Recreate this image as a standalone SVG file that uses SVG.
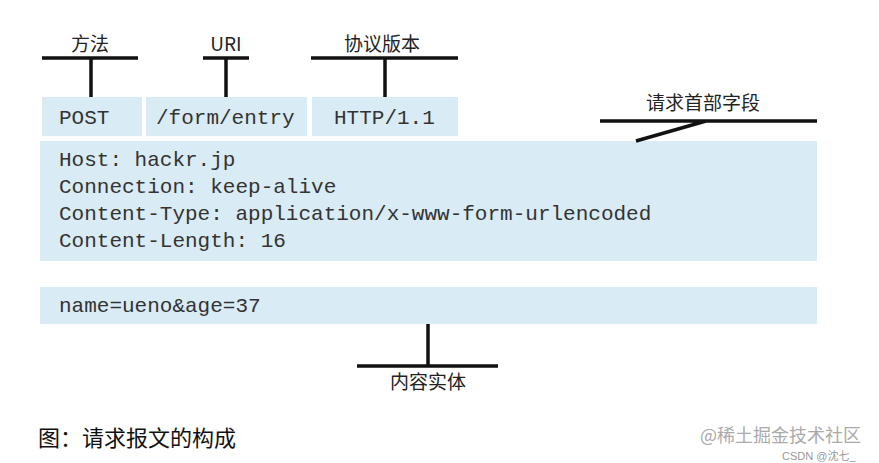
<svg xmlns="http://www.w3.org/2000/svg" width="879" height="463" viewBox="0 0 879 463">
<style>
.box{fill:#d9ebf5}
.mono{font-family:"Liberation Mono","Courier New",monospace;font-size:21px;fill:#333}
.lbl{font-family:"Noto Sans CJK SC",sans-serif;font-size:19px;fill:#222}
.ln{stroke:#111;stroke-width:3.5;fill:none}
</style>
<rect width="879" height="463" fill="#fff"/>
<g id="method"><rect class="box" x="42" y="97" width="100" height="39"/><text class="mono" x="59" y="124">POST</text></g>
<g id="uri"><rect class="box" x="146" y="97" width="161" height="39"/><text class="mono" x="156" y="124">/form/entry</text></g>
<g id="version"><rect class="box" x="312" y="97" width="146" height="39"/><text class="mono" x="334" y="124">HTTP/1.1</text></g>
<g id="headers"><rect class="box" x="40" y="141" width="777" height="120"/>
<text class="mono" x="59" y="166">Host: hackr.jp</text>
<text class="mono" x="59" y="193">Connection: keep-alive</text>
<text class="mono" x="59" y="220">Content-Type: application/x-www-form-urlencoded</text>
<text class="mono" x="59" y="247">Content-Length: 16</text></g>
<g id="body"><rect class="box" x="40" y="287" width="777" height="37"/><text class="mono" x="59" y="312">name=ueno&amp;age=37</text></g>
<g id="labels">
<text class="lbl" x="90" y="51" text-anchor="middle">方法</text>
<text class="lbl" x="226" y="51" text-anchor="middle" font-family="Liberation Sans,sans-serif">URI</text>
<text class="lbl" x="382" y="51" text-anchor="middle">协议版本</text>
<text class="lbl" x="703" y="110" text-anchor="middle">请求首部字段</text>
<text class="lbl" x="428" y="389" text-anchor="middle">内容实体</text>
</g>
<g id="connectors">
<path class="ln" d="M42 58H138M91 58V97"/>
<path class="ln" d="M203 58H249M226 58V97"/>
<path class="ln" d="M311 58H458M385 58V97"/>
<path class="ln" d="M600 121H817M706 121L636 141"/>
<path class="ln" d="M428 324V366M357 366H498"/>
</g>
<text x="38" y="446" font-family="Liberation Serif,Noto Sans CJK SC,serif" font-size="22" fill="#111">图：请求报文的构成</text>
<text x="700" y="442" font-family="Noto Sans CJK SC,sans-serif" font-size="18" fill="#aaa">@稀土掘金技术社区</text>
<text x="782" y="460" font-family="Liberation Sans,Noto Sans CJK SC,sans-serif" font-size="11" fill="#999">CSDN @沈七_</text>
</svg>
